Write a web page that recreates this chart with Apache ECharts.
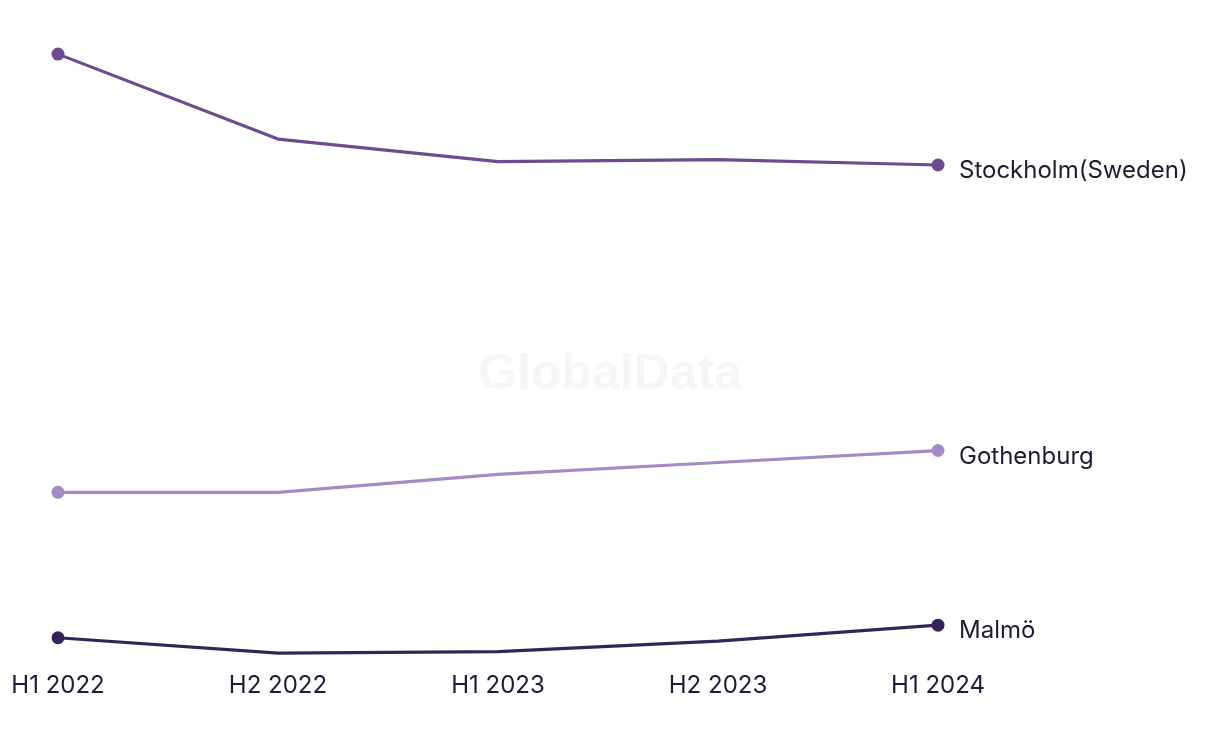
<!DOCTYPE html>
<html>
<head>
<meta charset="utf-8">
<script src="https://cdn.jsdelivr.net/npm/echarts@6/dist/echarts.min.js"></script>
<style>html,body{margin:0;padding:0;background:#fff;}#c{width:1220px;height:744px;}</style>
</head>
<body>
<div id="c"></div>
<script>
const categories = ['H1 2022', 'H2 2022', 'H1 2023', 'H2 2023', 'H1 2024'];
const stockholm = [92.0, 79.2, 75.8, 76.1, 75.3];
const gothenburg = [26.0, 26.0, 28.7, 30.5, 32.3];
const malmo = [4.1, 1.8, 2.0, 3.6, 6.0];
const seriesNames = ['Stockholm(Sweden)', 'Gothenburg', 'Malmö'];
const colors = ['#6a4c8f', '#a58bc6', '#35245a'];
const FONT = 'Inter, "Noto Sans", sans-serif';

const chart = echarts.init(document.getElementById('c'));
function mk(name, data, color) {
  return {
    name: name, type: 'line', data: data,
    symbol: 'circle',
    symbolSize: function (v, p) { return (p.dataIndex === 0 || p.dataIndex === data.length - 1) ? 13 : 0; },
    showAllSymbol: true,
    lineStyle: { width: 3.2, color: color },
    itemStyle: { color: color },
    label: { show: false },
    endLabel: {
      show: true, formatter: '{a}', distance: 21, offset: [0, 6],
      color: '#1e1b33', fontSize: 24, fontFamily: FONT
    },
    emphasis: { disabled: true },
    animation: false
  };
}
chart.setOption({
  animation: false,
  grid: { left: 58, right: 282, top: 1, bottom: 79, containLabel: false },
  graphic: [{
    type: 'text', left: 'center', top: 350, z: -1,
    style: { text: 'GlobalData', font: 'bold 50px Arial, "Liberation Sans", sans-serif', fill: '#f6f6f6' }
  }],
  xAxis: {
    type: 'category', data: categories, boundaryGap: false,
    axisLine: { show: false }, axisTick: { show: false }, splitLine: { show: false },
    axisLabel: { color: '#1e1b33', fontSize: 24, fontFamily: FONT, margin: 9 }
  },
  yAxis: {
    type: 'value', min: 0, max: 100, show: false
  },
  series: [
    mk(seriesNames[0], stockholm, colors[0]),
    mk(seriesNames[1], gothenburg, colors[1]),
    mk(seriesNames[2], malmo, colors[2])
  ]
});
</script>
</body>
</html>
